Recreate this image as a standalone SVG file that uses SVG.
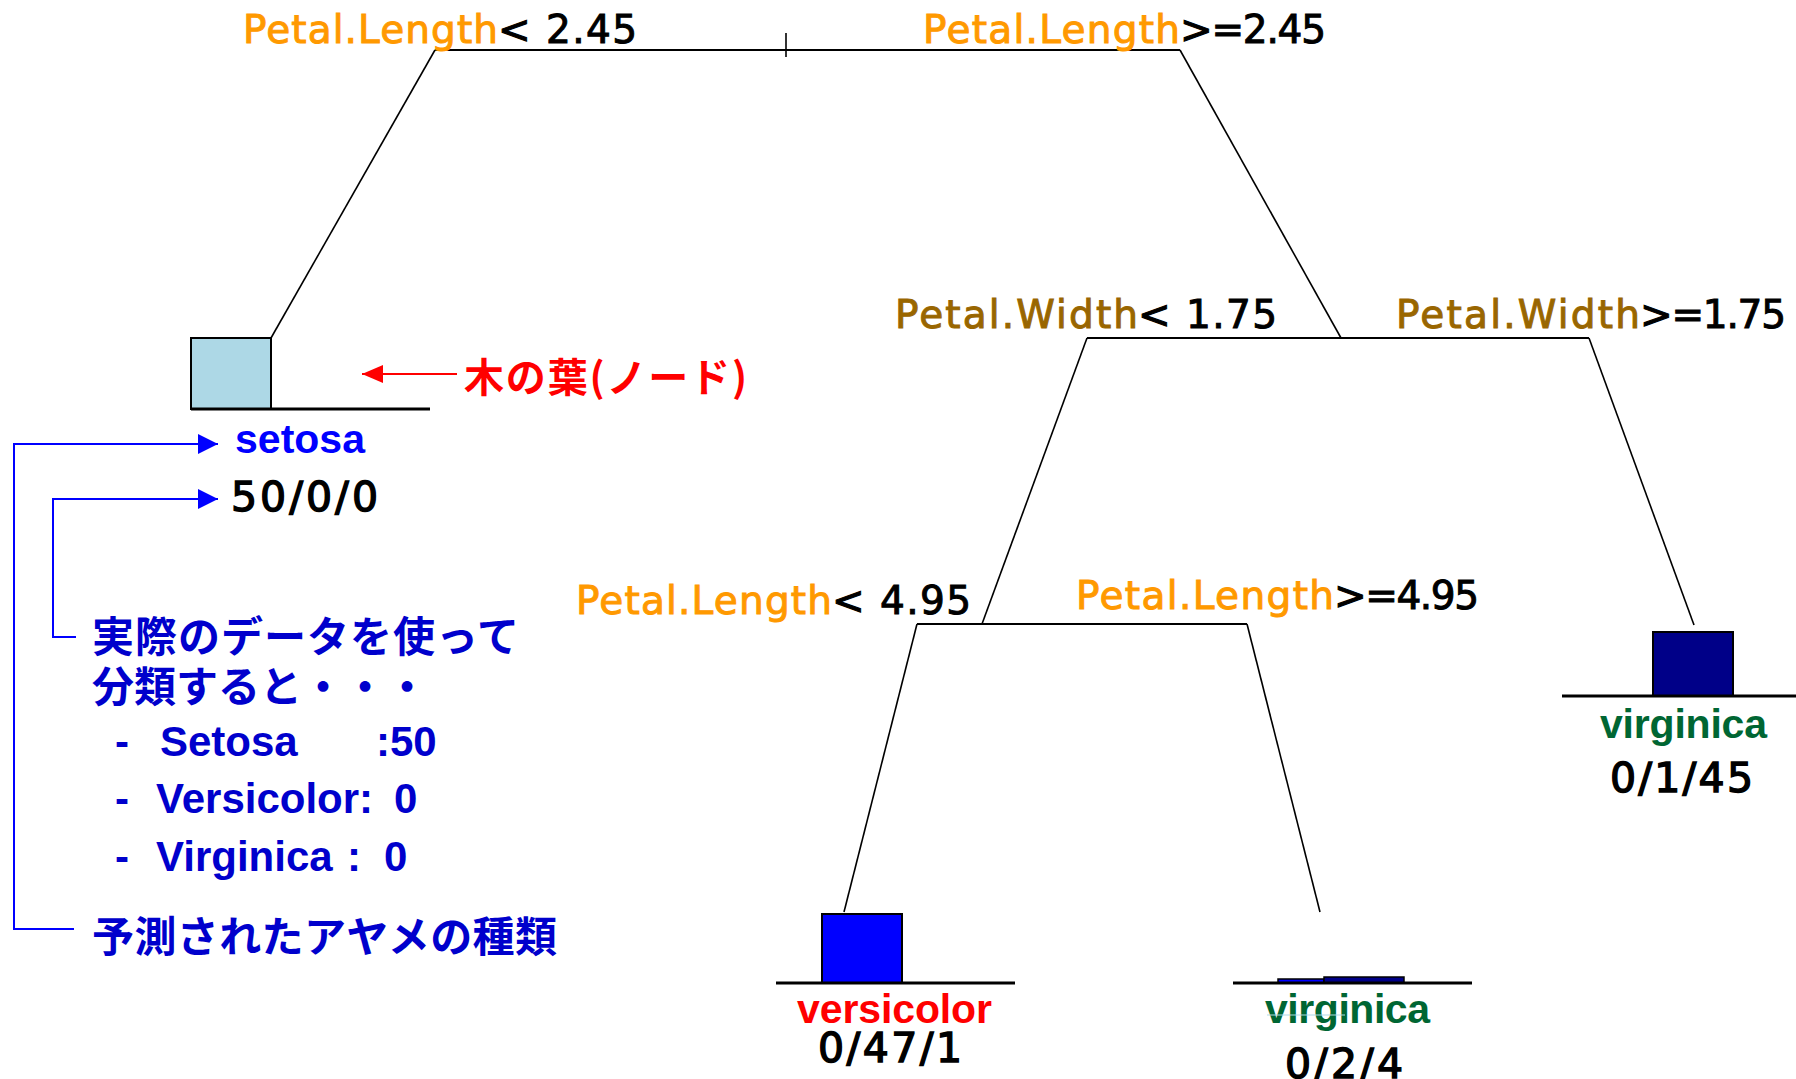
<svg xmlns="http://www.w3.org/2000/svg" width="1796" height="1079" viewBox="0 0 1796 1079">
<defs>
<style>
.edge{stroke:#000;stroke-width:1.6;fill:none}
.hbar{stroke:#000;stroke-width:2;fill:none}
.base{stroke:#000;stroke-width:3}
.box{stroke:#000;stroke-width:2}
.lbl{font-family:"DejaVu Sans","Liberation Sans",sans-serif;font-size:39px;stroke-width:1}
.leaf{font-family:"Liberation Sans",Arial,sans-serif;font-size:41px;font-weight:bold}
.cnt{font-family:"DejaVu Sans","Liberation Sans",sans-serif;font-size:41px;fill:#000;stroke:#000;stroke-width:1.4}
.or{fill:#FF9900;stroke:#FF9900}
.br{fill:#996600;stroke:#996600}
.bk{fill:#000;stroke:#000}
.jp{font-family:"Noto Sans CJK JP",sans-serif;font-size:42px;font-weight:bold;fill:#0000CC}
.lat{font-family:"Liberation Sans",Arial,"Noto Sans CJK JP",sans-serif;font-size:42px;font-weight:bold;fill:#0000CC}
.bl{stroke:#0000FF;stroke-width:2;fill:none}
</style>
<marker id="ahb" viewBox="0 0 20 20" refX="20" refY="10" markerWidth="20" markerHeight="20" markerUnits="userSpaceOnUse" orient="auto">
<path d="M0,0 L20,10 L0,20 Z" fill="#0000FF"/>
</marker>
<marker id="ahr" viewBox="0 0 21 18" refX="21" refY="9" markerWidth="21" markerHeight="18" markerUnits="userSpaceOnUse" orient="auto">
<path d="M0,0 L21,9 L0,18 Z" fill="#FF0000"/>
</marker>
</defs>
<rect x="0" y="0" width="1796" height="1079" fill="#fff"/>

<g id="connectors">
<line class="hbar" x1="435" y1="50" x2="1180" y2="50"/>
<line class="edge" x1="786" y1="33" x2="786" y2="57"/>
<line class="edge" x1="435" y1="50" x2="271" y2="338"/>
<line class="edge" x1="1180" y1="50" x2="1341" y2="338"/>
<line class="hbar" x1="1087" y1="338" x2="1589" y2="338"/>
<line class="edge" x1="1087" y1="338" x2="982" y2="624"/>
<line class="edge" x1="1589" y1="338" x2="1694" y2="625"/>
<line class="hbar" x1="917" y1="624" x2="1247" y2="624"/>
<line class="edge" x1="917" y1="624" x2="844" y2="912"/>
<line class="edge" x1="1247" y1="624" x2="1320" y2="912"/>
</g>

<g id="split-root">
<text class="lbl or" x="243" y="43" textLength="255">Petal.Length</text>
<text class="lbl bk" x="498" y="43" textLength="139">&lt; 2.45</text>
<text class="lbl or" x="923" y="43" textLength="257">Petal.Length</text>
<text class="lbl bk" x="1180" y="43" textLength="146">&gt;=2.45</text>
</g>

<g id="split-width">
<text class="lbl br" x="895" y="328" textLength="243">Petal.Width</text>
<text class="lbl bk" x="1138" y="328" textLength="139">&lt; 1.75</text>
<text class="lbl br" x="1396" y="328" textLength="244">Petal.Width</text>
<text class="lbl bk" x="1640" y="328" textLength="146">&gt;=1.75</text>
</g>

<g id="split-length2">
<text class="lbl or" x="576" y="614" textLength="256">Petal.Length</text>
<text class="lbl bk" x="832" y="614" textLength="139">&lt; 4.95</text>
<text class="lbl or" x="1076" y="609" textLength="258">Petal.Length</text>
<text class="lbl bk" x="1334" y="609" textLength="145">&gt;=4.95</text>
</g>

<g id="leaf-setosa">
<rect class="box" x="191" y="338" width="80" height="71" fill="#ADD8E6"/>
<line class="base" x1="191" y1="409" x2="430" y2="409"/>
<text class="leaf" x="235" y="453" fill="#0000FF" textLength="130">setosa</text>
<text class="cnt" x="231" y="511" textLength="147">50/0/0</text>
</g>

<g id="leaf-versicolor">
<rect class="box" x="822" y="914" width="80" height="69" fill="#0000FF"/>
<line class="base" x1="776" y1="983" x2="1015" y2="983"/>
<text class="leaf" x="797" y="1023" fill="#FF0000" textLength="195">versicolor</text>
<text class="cnt" x="818" y="1062" textLength="144">0/47/1</text>
</g>

<g id="leaf-virginica-right">
<rect class="box" x="1653" y="632" width="80" height="64" fill="#000088"/>
<line class="base" x1="1562" y1="696" x2="1796" y2="696"/>
<text class="leaf" x="1600" y="738" fill="#006633" textLength="167">virginica</text>
<text class="cnt" x="1610" y="792" textLength="143">0/1/45</text>
</g>

<g id="leaf-virginica-bottom">
<rect x="1278" y="979" width="46" height="4" fill="#0000FF" stroke="#000" stroke-width="1.5"/>
<rect x="1324" y="977" width="80" height="6" fill="#000088" stroke="#000" stroke-width="1.5"/>
<line class="base" x1="1233" y1="983" x2="1472" y2="983"/>
<text class="leaf" x="1265" y="1023" fill="#006633" textLength="165">virginica</text>
<line x1="1267" y1="1015" x2="1345" y2="1015" stroke="#ADD8E6" stroke-width="1"/>
<text class="cnt" x="1285" y="1078" textLength="118">0/2/4</text>
</g>

<g id="note-leaf">
<line x1="457" y1="374" x2="362" y2="374" stroke="#FF0000" stroke-width="2" marker-end="url(#ahr)"/>
<text x="464" y="392" font-family="Noto Sans CJK JP, sans-serif" font-size="40" font-weight="bold" fill="#FF0000" textLength="283">木の葉(ノード)</text>
</g>

<g id="note-species">
<polyline class="bl" points="74,929 14,929 14,444 218,444" marker-end="url(#ahb)"/>
<text class="jp" x="92" y="952" textLength="465">予測されたアヤメの種類</text>
</g>

<g id="note-counts">
<polyline class="bl" points="76,637 53,637 53,499 218,499" marker-end="url(#ahb)"/>
<text class="jp" x="92" y="652" textLength="427">実際のデータを使って</text>
<text class="jp" x="92" y="702">分類すると・・・</text>
<text class="lat" y="756"><tspan x="115">-</tspan><tspan x="160">Setosa</tspan><tspan x="376">:50</tspan></text>
<text class="lat" y="813"><tspan x="115">-</tspan><tspan x="156">Versicolor:</tspan><tspan x="394">0</tspan></text>
<text class="lat" y="871"><tspan x="115">-</tspan><tspan x="156">Virginica</tspan><tspan x="347">:</tspan><tspan x="384">0</tspan></text>
</g>
</svg>
